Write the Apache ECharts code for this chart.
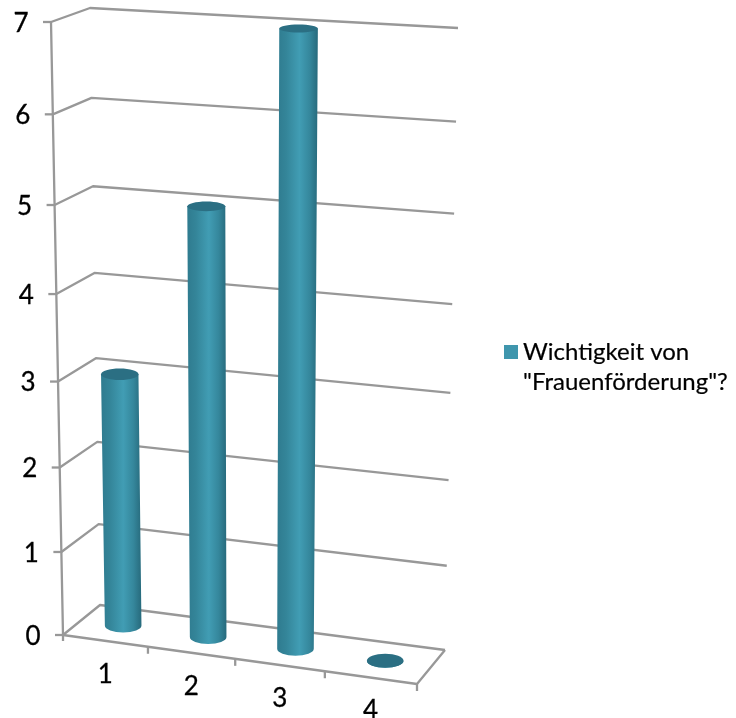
<!DOCTYPE html>
<html>
<head>
<meta charset="utf-8">
<style>html,body{margin:0;padding:0;background:#fff}#chart{width:736px;height:718px}</style>
<script src="https://cdn.jsdelivr.net/npm/echarts@6/dist/echarts.min.js"></script>
</head>
<body>
<div id="chart"></div>
<script>
// Chart content
const categories = ['1', '2', '3', '4'];
const values = [3, 5, 7, 0];
const valueTicks = [0, 1, 2, 3, 4, 5, 6, 7];
const seriesName = 'Wichtigkeit von\n"Frauenförderung"?';

const FONT = 'Lato';
const LINE = '#989898';
const W = 736, H = 718;

// Corners of the 3D box in screen space: floor and ceiling, front and back.
const box = {
  floorFrontL: [63, 635], floorFrontR: [417, 684],
  floorBackL: [100, 605], floorBackR: [445, 650],
  topFrontL: [51, 22], topFrontR: [428, 46],
  topBackL: [90, 8], topBackR: [458, 28]
};
const mix = (a, b, t) => [a[0] + (b[0] - a[0]) * t, a[1] + (b[1] - a[1]) * t];

// Foreshortening along the width and the height of the box.
const warp = (t, k) => t / (k - (k - 1) * t);
const warpX = t => warp(t, 1.0556);
const warpY = t => warp(t, 1.064);

// x, y in 0..1 along the box, z: 0 front, 1 back.
function project(x, y, z) {
  const u = warpX(x), v = warpY(y);
  const floor = mix(mix(box.floorFrontL, box.floorFrontR, u), mix(box.floorBackL, box.floorBackR, u), z);
  const top = mix(mix(box.topFrontL, box.topFrontR, u), mix(box.topBackL, box.topBackR, u), z);
  return mix(floor, top, v);
}

const lineEl = (pts, width) => ({
  type: 'polyline', shape: { points: pts },
  style: { stroke: LINE, lineWidth: width || 2.3, fill: null, lineJoin: 'round' }, silent: true
});
const textEl = (txt, p) => ({
  type: 'text', x: p[0], y: p[1],
  style: {
    text: txt, font: '26px ' + FONT, fill: '#000', align: 'center', verticalAlign: 'middle',
    stroke: '#000', lineWidth: 0.3
  }, silent: true
});

// Wall gridlines, value axis ticks and value labels.
function renderValueTick(params, api) {
  const v = api.value(0);
  const y = 1 - api.coord([0, v])[1] / H;
  const front = project(0, y, 0), back = project(0, y, 1), right = project(1, y, 1);
  return {
    type: 'group',
    children: [
      lineEl([front, back, right]),
      lineEl([[front[0] - 8, front[1]], front]),
      textEl(String(v), [front[0] - 30, front[1] + 1.5])
    ]
  };
}

// Box edges that are not gridlines.
function renderFrame(params, api) {
  return {
    type: 'group',
    children: [
      lineEl([project(0, 1, 0), project(0, 0, 0), project(1, 0, 0), project(1, 0, 1)])
    ]
  };
}

// Category ticks along the front of the floor and the category labels.
function renderCategory(params, api) {
  const i = api.value(0);
  const band = api.size([1, 0])[0];
  const cx = api.coord([i, 0])[0];
  const edge = project((cx + band / 2) / W, 0, 0);
  const children = [lineEl([edge, [edge[0], edge[1] + 7]])];
  if (i === 0) {
    const start = project((cx - band / 2) / W, 0, 0);
    children.push(lineEl([start, [start[0], start[1] + 6]]));
  }
  const mid = project(cx / W, 0, 0);
  children.push(textEl(categories[i], [mid[0], mid[1] + 33.5]));
  return { type: 'group', children };
}

// Cylinders standing in the middle of the floor depth.
function renderCylinder(params, api) {
  const p = api.coord([api.value(0), api.value(1)]);
  const x = p[0] / W, y = 1 - p[1] / H;
  const base = project(x, 0, 0.5), head = project(x, y, 0.5);
  const t = warpY(y);
  const rxBase = 18.3, rxHead = 18.3 + 1.0 * t;
  const ryBase = 7, ryHead = 7 - 3.0 * t;
  const body = new echarts.graphic.LinearGradient(0, 0, 1, 0, [
    { offset: 0, color: '#2f7b8f' },
    { offset: 0.22, color: '#348599' },
    { offset: 0.55, color: '#419db4' },
    { offset: 0.8, color: '#35879c' },
    { offset: 1, color: '#276a7c' }
  ]);
  const pathData =
    'M' + (head[0] - rxHead) + ' ' + head[1] +
    'L' + (base[0] - rxBase) + ' ' + base[1] +
    'A' + rxBase + ' ' + ryBase + ' 0 0 0 ' + (base[0] + rxBase) + ' ' + base[1] +
    'L' + (head[0] + rxHead) + ' ' + head[1] + 'Z';
  return {
    type: 'group',
    children: [
      { type: 'path', shape: { pathData }, style: { fill: body }, silent: true },
      { type: 'ellipse', shape: { cx: head[0], cy: head[1], rx: rxHead, ry: ryHead },
        style: { fill: '#2b6f83' }, silent: true }
    ]
  };
}

const chart = echarts.init(document.getElementById('chart'), null, { renderer: 'canvas' });
chart.setOption({
  animation: false,
  backgroundColor: '#fff',
  textStyle: { fontFamily: FONT },
  grid: { left: 0, right: 0, top: 0, bottom: 0 },
  xAxis: { type: 'category', data: categories, show: false },
  yAxis: { type: 'value', min: 0, max: 7, interval: 1, show: false },
  legend: {
    left: 499, top: 302,
    orient: 'vertical',
    icon: 'rect', itemWidth: 14, itemHeight: 14,
    data: [seriesName],
    selectedMode: false,
    formatter: name => '\n' + name,
    textStyle: {
      fontFamily: FONT, fontSize: 24, color: '#000', lineHeight: 30,
      textBorderColor: '#000', textBorderWidth: 0.2
    }
  },
  series: [
    { type: 'custom', name: 'walls', coordinateSystem: 'cartesian2d', silent: true, z: 1,
      encode: { y: 0 }, data: valueTicks.map(v => [v]), renderItem: renderValueTick },
    { type: 'custom', name: 'frame', coordinateSystem: 'cartesian2d', silent: true, z: 1,
      data: [[0]], renderItem: renderFrame },
    { type: 'custom', name: 'categories', coordinateSystem: 'cartesian2d', silent: true, z: 1,
      data: categories.map((c, i) => [i]), renderItem: renderCategory },
    { type: 'custom', name: seriesName, coordinateSystem: 'cartesian2d', z: 2,
      itemStyle: { color: '#3f96ad' },
      encode: { x: 0, y: 1 },
      data: values.map((v, i) => [i, v]), renderItem: renderCylinder }
  ]
});
</script>
</body>
</html>
